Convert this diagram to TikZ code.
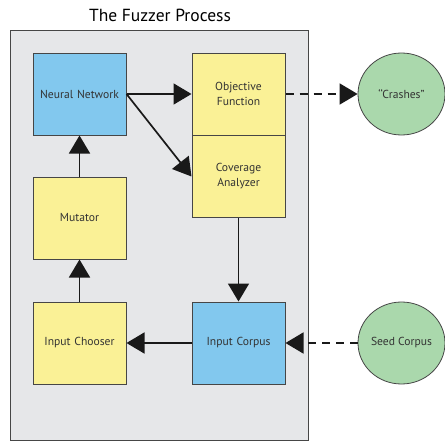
\documentclass[tikz,border=0pt]{standalone}
\usepackage{fontspec}
\setmainfont{PT Sans}
\usepackage{tikz}
\usetikzlibrary{shapes.geometric, arrows.meta}
\definecolor{netblue}{RGB}{130,200,238}
\definecolor{boxyellow}{RGB}{250,241,150}
\definecolor{seedgreen}{RGB}{170,216,172}
\definecolor{panelgray}{RGB}{230,231,233}
\definecolor{edgegray}{RGB}{70,70,70}
\tikzstyle{panel} = [rectangle, draw=edgegray, line width=1pt, fill=panelgray]
\tikzstyle{process} = [rectangle, minimum width=93pt, minimum height=82pt, inner sep=0pt, text centered, text width=88pt, draw=edgegray, line width=1pt, fill=boxyellow, text=black!80, font=\fontsize{11.6}{15}\selectfont]
\tikzstyle{model} = [process, fill=netblue]
\tikzstyle{store} = [ellipse, minimum width=87pt, minimum height=82pt, inner sep=0pt, draw=edgegray, line width=0.8pt, fill=seedgreen, text=black!80, font=\fontsize{11.6}{15}\selectfont]
\tikzstyle{arrow} = [line width=1.7pt, draw=black!90, -{Triangle[length=18pt,width=21pt]}]
\tikzstyle{dasharrow} = [arrow, dash pattern=on 8pt off 6pt]

\begin{document}
\begin{tikzpicture}[x=1pt, y=-1pt]
        \useasboundingbox (0,0) rectangle (445,442);
        \draw [panel] (10,30) rectangle (308,440);
        \node (title) at (160,15) {\fontsize{17.5}{20}\selectfont The Fuzzer Process};

        \node (net) [model] at (79.5,94) {Neural Network};
        \node (obj) [process] at (238.5,94) {Objective\\Function};
        \node (cov) [process] at (238.5,176.5) {Coverage\\Analyzer};
        \node (mut) [process] at (79.5,218) {Mutator};
        \node (chooser) [process] at (79.5,343) {Input Chooser};
        \node (corpus) [model] at (238.5,343) {Input Corpus};
        \node (crash) [store] at (401.5,94) {{\char96}{\char96}Crashes''};
        \node (seed) [store] at (401.5,343) {Seed Corpus};

        \draw [arrow] (net.east) -- (obj.west);
        \draw [arrow] (net.east) -- (cov.west);
        \draw [arrow] (mut) -- (net);
        \draw [arrow] (chooser) -- (mut);
        \draw [arrow] (cov) -- (corpus);
        \draw [arrow] (corpus) -- (chooser);
        \draw [dasharrow] (obj) -- (crash);
        \draw [dasharrow] (seed) -- (corpus);
    \end{tikzpicture}
\end{document}
